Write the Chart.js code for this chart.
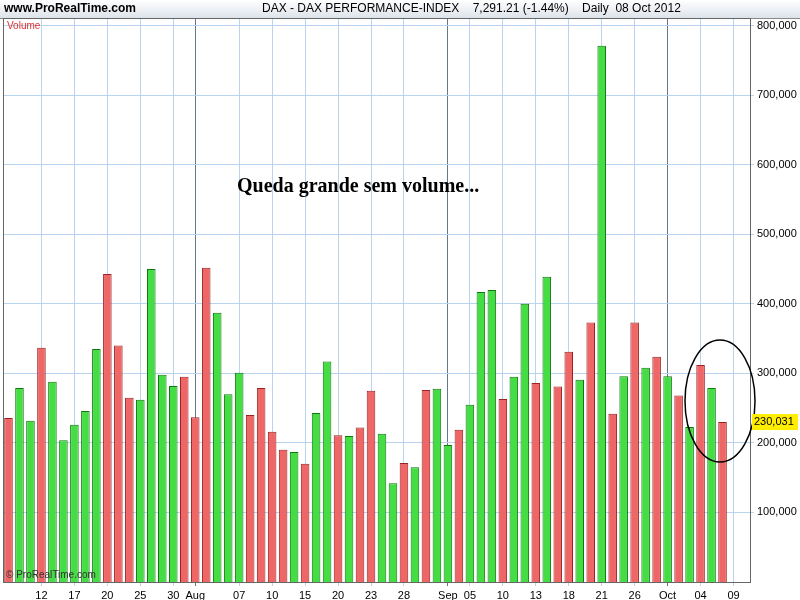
<!DOCTYPE html>
<html><head><meta charset="utf-8">
<script src="https://cdn.jsdelivr.net/npm/chart.js@4"></script>
<style>body{margin:0;background:#fff}</style>
</head><body><canvas id="c" width="800" height="600"></canvas>
<script>
// tick labels per trading day ("" = no label)
const labels = ["","","","12","","","17","","","20","","","25","","","30","","Aug","","","","07","","","10","","","15","","","20","","","23","","","28","","","","Sep","","05","","","10","","","13","","","18","","","21","","","26","","","Oct","","","04","","","09",""];
// volume in thousands
const volumes = [236,279,232,337,288,204,226,246,335,443,340,265,262,450,298,282,295,237,452,387,270,301,240,279,216,190,187,170,243,317,211,210,222,275,213,142,171,165,276,278,197,219,255,417,420,263,295,400,286,439,281,331,291,373,771,242,296,373,308,324,296,268,223,312,279,230,null,null];
const up = [0,1,1,0,1,1,1,1,1,0,0,0,1,1,1,1,0,0,0,1,1,1,0,0,0,0,1,0,1,1,0,1,0,0,1,1,0,1,0,1,1,0,1,1,1,0,1,1,0,1,0,0,1,0,1,0,1,0,1,0,1,0,1,0,1,0,0,0];
const monthIdx = [17,40,60];

const overlay = {
  id: "overlay",
  afterDraw(chart) {
    const ctx = chart.ctx, a = chart.chartArea, y = chart.scales.y;
    ctx.save();
    const g = ctx.createLinearGradient(0,0,0,18);
    g.addColorStop(0,"#ffffff"); g.addColorStop(1,"#dde3ea");
    ctx.fillStyle = g; ctx.fillRect(0,0,800,18);
    ctx.strokeStyle = "#888"; ctx.beginPath(); ctx.moveTo(0,18.5); ctx.lineTo(800,18.5); ctx.stroke();
    ctx.fillStyle = "#000"; ctx.font = "bold 12px 'Liberation Sans', Arial";
    ctx.textBaseline = "middle";
    ctx.fillText("www.ProRealTime.com", 4, 9);
    ctx.font = "12px 'Liberation Sans', Arial";
    ctx.fillText("DAX - DAX PERFORMANCE-INDEX    7,291.21 (-1.44%)    Daily  08 Oct 2012", 262, 9);
    ctx.strokeStyle = "#666"; ctx.strokeRect(a.left+0.5, a.top+0.5, a.right-a.left, a.bottom-a.top);
    ctx.fillStyle = "#d33"; ctx.font = "10px 'Liberation Sans', Arial";
    ctx.fillText("Volume", 7, 26);
    ctx.fillStyle = "#333"; ctx.fillText("© ProRealTime.com", 6, 575);
    ctx.fillStyle = "#000"; ctx.font = "bold 20px 'Liberation Serif', 'Times New Roman'";
    ctx.fillText("Queda grande sem volume...", 237, 187);
    ctx.strokeStyle = "#000"; ctx.lineWidth = 1.5; ctx.beginPath();
    ctx.ellipse(720, 401, 35, 61, 0, 0, Math.PI*2); ctx.stroke();
    const yv = y.getPixelForValue(230);
    ctx.fillStyle = "#ffee00"; ctx.fillRect(752, yv-8, 46, 16);
    ctx.fillStyle = "#000"; ctx.font = "11px 'Liberation Sans', Arial";
    ctx.fillText("230,031", 754, yv);
    ctx.restore();
  }
};

new Chart(document.getElementById("c"), {
  type: "bar",
  data: {
    labels: labels,
    datasets: [{
      data: volumes,
      backgroundColor: up.map(u => u ? "#44dd44" : "#ee6666"),
      borderColor: up.map(u => u ? "#117711" : "#992222"),
      borderWidth: 1,
      barPercentage: 0.78,
      categoryPercentage: 1
    }]
  },
  options: {
    responsive: false, animation: false,
    devicePixelRatio: 1,
    layout: { padding: { top: 18, left: 3 } },
    plugins: { legend: { display: false }, tooltip: { enabled: false } },
    scales: {
      x: {
        offset: true,
        grid: {
          offset: false,
          color: c => monthIdx.includes(c.index) ? "#667788" : (labels[c.index] ? "#b8d4ee" : "transparent"),
          tickLength: 4
        },
        ticks: {
          autoSkip: false, maxRotation: 0, color: "#000",
          font: { size: 11, family: "'Liberation Sans', Arial" },
          callback: (v, i) => labels[i]
        },
        afterFit: s => { s.height = 18; }
      },
      y: {
        position: "right", min: 0, max: 811,
        afterBuildTicks: s => { s.ticks = [100,200,300,400,500,600,700,800].map(v => ({ value: v })); },
        grid: { color: "#b8d4ee", tickLength: 4 },
        ticks: {
          color: "#000", font: { size: 11, family: "'Liberation Sans', Arial" },
          callback: v => v + ",000"
        },
        afterFit: s => { s.width = 50; }
      }
    }
  },
  plugins: [overlay]
});
</script>
</body></html>
